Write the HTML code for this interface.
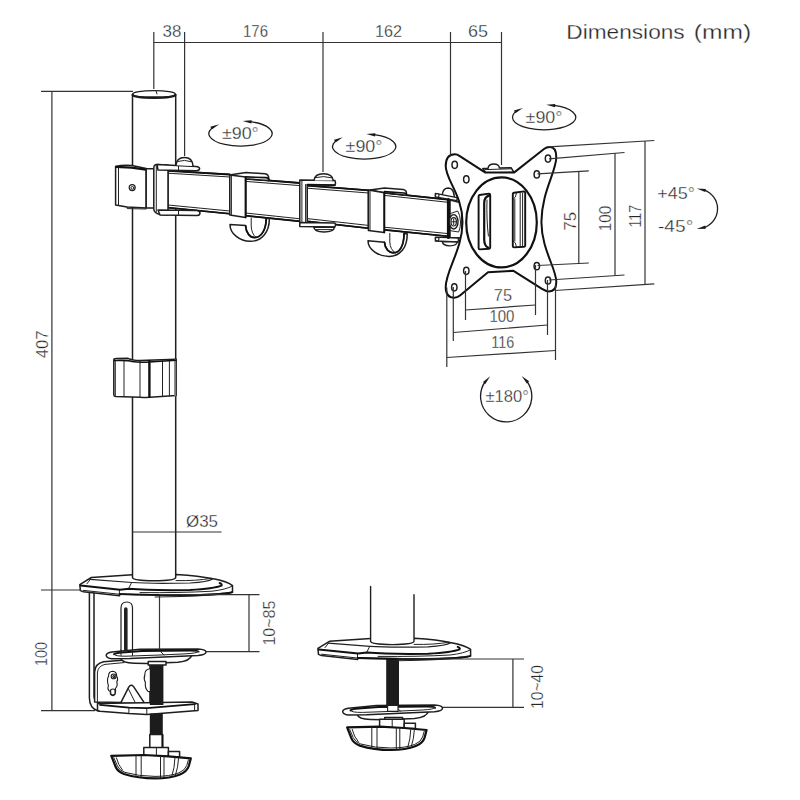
<!DOCTYPE html>
<html><head><meta charset="utf-8"><title>Dimensions (mm)</title>
<style>
html,body{margin:0;padding:0;background:#fff;width:800px;height:800px;overflow:hidden}
svg{display:block}
text{font-family:"Liberation Sans",sans-serif;fill:#262626;stroke:#fff;stroke-width:0.3px;paint-order:fill stroke}
#txt{font-size:16px}
.dim line,.dim path,.dim polyline{stroke:#333;stroke-width:1.2;fill:none}
.d{stroke:#1e1e1e;stroke-width:1.5;fill:#fff;stroke-linejoin:round;stroke-linecap:round}
.t{stroke:#222;stroke-width:1;fill:none;stroke-linecap:round}
.k{stroke:#111;stroke-width:2;fill:none;stroke-linecap:round;stroke-linejoin:round}
.n{fill:none}
</style></head><body>
<svg width="800" height="800" viewBox="0 0 800 800">
<rect width="800" height="800" fill="#fff"/>

<!-- ===== TEXT ===== -->
<g id="txt">
<text y="38.8" style="font-size:20.6px"><tspan x="566.3" textLength="118.4" lengthAdjust="spacingAndGlyphs">Dimensions</tspan> <tspan x="693.8" textLength="57.4" lengthAdjust="spacingAndGlyphs">(mm)</tspan></text>
<text x="162.5" y="37" textLength="18.8" lengthAdjust="spacingAndGlyphs">38</text>
<text x="243" y="37" textLength="25" lengthAdjust="spacingAndGlyphs">176</text>
<text x="375" y="37" textLength="27" lengthAdjust="spacingAndGlyphs">162</text>
<text x="468" y="37" textLength="20" lengthAdjust="spacingAndGlyphs">65</text>
<text x="221.9" y="139.4" textLength="36.9" lengthAdjust="spacingAndGlyphs">±90°</text>
<text x="345.6" y="151.9" textLength="36.9" lengthAdjust="spacingAndGlyphs">±90°</text>
<text x="525.6" y="122.5" textLength="36.9" lengthAdjust="spacingAndGlyphs">±90°</text>
<text x="657.3" y="198.7" textLength="37.7" lengthAdjust="spacingAndGlyphs">+45°</text>
<text x="658" y="231.6" textLength="35.3" lengthAdjust="spacingAndGlyphs">-45°</text>
<text x="485.5" y="402" textLength="43.3" lengthAdjust="spacingAndGlyphs">±180°</text>
<text x="186" y="526.5" textLength="32" lengthAdjust="spacingAndGlyphs">Ø35</text>
<text x="493.8" y="301" textLength="18.2" lengthAdjust="spacingAndGlyphs">75</text>
<text x="489.4" y="322" textLength="25" lengthAdjust="spacingAndGlyphs">100</text>
<text x="491.3" y="347.6" textLength="23" lengthAdjust="spacingAndGlyphs">116</text>
<text transform="translate(47.7 358.3) rotate(-90)" textLength="27.8" lengthAdjust="spacingAndGlyphs">407</text>
<text transform="translate(47 666) rotate(-90)" textLength="24" lengthAdjust="spacingAndGlyphs">100</text>
<text transform="translate(275.4 645.6) rotate(-90)" textLength="45" lengthAdjust="spacingAndGlyphs">10~85</text>
<text transform="translate(543 709) rotate(-90)" textLength="44" lengthAdjust="spacingAndGlyphs">10~40</text>
<text transform="translate(575.7 230.6) rotate(-90)" textLength="18.7" lengthAdjust="spacingAndGlyphs">75</text>
<text transform="translate(611.3 231.2) rotate(-90)" textLength="25.6" lengthAdjust="spacingAndGlyphs">100</text>
<text transform="translate(641.3 227.5) rotate(-90)" textLength="22.5" lengthAdjust="spacingAndGlyphs">117</text>
</g>

<!-- ===== DRAWING ===== -->
<g id="draw">
<!--BASE1-->
<g id="base1">
<!-- C bracket back -->
<path class="d" d="M89.4 592 V698 Q89.6 708 97.5 710.8 L100 711.2 V703 L97.5 702 Q94 700 94 696 V592 Z"/>
<!-- keyhole slot -->
<path class="d" style="stroke-width:1.2" d="M121 652 V608 Q121 602 126.8 602 Q132.5 602 132.5 608 V652"/>
<path class="k" d="M125.8 609 V651" style="stroke-width:3.6;stroke:#222"/>
<!-- side plate -->
<path class="d" d="M94.6 702 V672 Q95 663.6 103.6 661.8 L150 658 V703 Z"/>
<path class="t" d="M97.4 702 V673 Q97.8 666 105 664.4 L124 662.6"/>
<!-- nut blobs -->
<g class="d" style="stroke-width:1.1">
<path d="M108.6 676 Q108.4 671.4 112.6 671.2 Q116.8 671.4 116.6 676 Q118.6 679 116.8 682 Q118 686 115.4 688.4 Q116.4 694.4 113.4 695.6 Q110 695.8 110.2 691.6 Q107 690 108.4 685.4 Q106.4 680 108.6 676 Z"/>
<circle cx="113.6" cy="676.4" r="2.4"/>
<circle cx="113.8" cy="676.6" r="1"/>
<path d="M110.6 690 Q113 688 115 690 V694 Q113 696 110.8 694 Z"/>
<path d="M150 668.8 Q144.6 669.4 144.8 675 Q143.4 679 145.4 682.6 Q144.6 688 148 691.4 L150 691.6"/>
</g>
<!-- gusset -->
<path class="d" d="M121 702.4 L128.6 687.4 Q130.8 683.6 133.4 686.4 L144 702.4"/>
<path class="t" d="M128.2 688.4 L135 702.2"/>
<!-- bottom plate -->
<path class="d" d="M97.5 703.6 L192 702 L198 704 V710.4 L146.8 714.4 L128.9 713.6 L100 711.2 L97.5 710.6 Z"/>
<path class="k" d="M100 704.8 L128.9 707.6 L146.8 708.2 L194.8 704.2" style="stroke-width:1.8"/>
<path class="t" d="M128.9 707.8 V713.4 M146.8 708.4 V714.2 M194.6 704.4 V710.6"/>
<!-- screw -->
<rect x="149.8" y="664" width="13.6" height="41" fill="#1c1c1c"/>
<rect x="149.8" y="713.6" width="13" height="21" fill="#1c1c1c"/>
<path class="d" d="M149.8 734.6 H162.6 V748 H149.8 Z"/>
<path class="k" d="M162.4 735 V747.6" style="stroke-width:1.8"/>
<!-- pressure plate -->
<g id="pplate">
<path class="d" d="M120.5 658 Q122 663 134 663.3 L147.5 663.6 L178 662.2 Q190 661.2 192 655 Z"/>
<path class="d" d="M148.2 661.4 H166 V665 H148.2 Z"/>
<path class="d" d="M106.2 655.2 Q106.4 652.8 112 652 L140 649.2 L198 648.9 Q206 649.3 206 652 Q206 654.6 198 655.6 L130 658.6 L112 658.8 Q106.2 658 106.2 655.2 Z"/>
<path class="k" d="M114 654.2 Q116 652.8 122 652.4 L142 650.9 L190 650.4 Q198.4 650.4 198.6 651.6" style="stroke-width:2"/>
<path class="t" d="M114 654.2 Q114.4 656.4 126 656.2 L160 655 L186 653.8 Q197 653.2 198.6 651.6 M160 651 L164 655"/>
</g>
<path class="t" d="M121 650 V655.4 M132.5 649.8 V655.6"/>
<!-- knob -->
<g id="knob">
<path class="d" d="M143.8 747.6 H168.4 V756.6 H143.8 Z"/>
<path class="t" d="M156.4 748 V756.4"/>
<path class="d" d="M168.4 751.6 H179.6 V757 H168.4 Z"/>
<path class="d" style="stroke-width:2.2;stroke:#111" d="M111.3 755.8 L144 755 L168.4 756.4 L190.8 758.4 L188.8 766 Q187 771.6 180 774.4 Q170 778.4 155 778.4 Q138 778.4 124 774 Q117.5 771.5 115.5 766.5 Z"/>
<path class="t" d="M113.8 757.6 L117.4 766 Q119.4 770.4 125 772.4 Q139 776.4 155 776.4 Q170 776.4 179 772.8 Q185.4 770 186.8 765.4 L188.4 759.8"/>
<path class="t" d="M116.4 757.8 Q118 765 122.4 770 M136 756 V776.6 M141.2 756 V777.4 M160.5 756.6 V777.6 M164 756.8 V777.4 M178.6 758 Q178 768 175.6 774.6 M175 757.6 Q174.6 768 172 775.6"/>
</g>
<!-- base plate -->
<g id="bplate">
<path class="d" d="M79.8 584.6 L91.3 577.5 L132.5 574.8 L176.2 574.4 Q200 576 212 578.6 Q228 581.6 232.5 585.6 V592 Q228 593.8 200 594.8 Q170 595.6 119.6 594 V595.8 L83.4 591.8 L80.4 590.6 Z"/>
<path class="t" style="stroke-width:1.2" d="M90 579.4 L131.9 582.5 Q150 583.8 190 583 Q208 582 212.5 579"/>
<path class="t" d="M86.9 583.8 L90.4 579.4 M131.6 582.6 L128.6 588.6 M176 580.6 Q196 581 211 578.4"/>
<path class="t" d="M155 597 Q200 596.6 226 593.8 M83.4 590.4 L119 594.2 M119.4 589.6 V595.6"/>
<path class="k" d="M80.6 585.6 L120 589.8 L128.8 588.8 Q150 590.6 190 590 Q214 588.6 221.5 585.6 Q222.5 584.2 219.6 583" style="stroke-width:2"/>
<path class="t" d="M232.4 586 Q226 589.6 212 591.2 Q180 593 140 592.6"/>
<path class="k" d="M119.6 594.2 Q170 595.8 200 595 Q228 594 232.3 592.2" style="stroke-width:1.8"/>
</g>
</g>
<!--POLE-->
<g id="pole">
<path class="d" d="M132.5 94.5 V577.4 Q132.7 580.8 154.1 580.8 Q175.5 580.8 175.7 577.4 V94.5 Z"/>
<ellipse class="d" cx="154" cy="94.2" rx="21.5" ry="3.6" style="stroke-width:1.2"/>
<path class="k" d="M132.8 95 Q134 97.6 154 97.6 Q174 97.6 175.2 95" style="stroke-width:2.6;stroke:#1a1a1a"/>
<path class="t" d="M156 91 L157 94"/>
<!-- cable clip on pole -->
<path class="d" d="M113.8 360.2 Q113.8 358.6 116 358.6 L128 358.3 Q132 360.3 140 360.6 L176.2 359.2 V395.6 L150 397.3 Q146 397.6 140 397.2 L115.5 396.6 Q113.8 396.5 113.8 394.8 Z"/>
<path class="t" d="M115.3 360.5 V396 M124 361 V396.6 M140 361.5 V397 M162.5 361 V396.4 M169.4 360.6 V396"/>
<path class="k" d="M149.4 361 V396.8" style="stroke-width:2.4"/>
<path class="k" d="M175.2 360 V395.5" style="stroke:#777;stroke-width:2"/>
<path class="k" d="M114.5 360.5 Q128 360 132 361.5 Q140 362.8 149 362 L176 360.2" style="stroke-width:1.6"/>
</g>
<!--ARM-->
<g id="arm">
<!-- arm segments -->
<path class="d" d="M168 170.6 L229.8 174.4 V213.8 L168 207.6 Z"/>
<path class="t" d="M168 173.2 L229.8 177 M168 205 L229.8 211"/>
<path class="k" d="M168 170.8 L229.8 174.5" style="stroke-width:1.8"/>
<path class="k" d="M168 207.8 L229.8 213.8" style="stroke-width:1.6"/>
<path class="d" d="M245.6 178.7 L300 183 V221.3 L245.6 215.6 Z"/>
<path class="t" d="M245.6 181.4 L300 185.6 M245.6 213 L300 218.8"/>
<path class="k" d="M245.6 178.8 L300 183" style="stroke-width:1.8"/>
<path class="k" d="M245.6 215.8 L300 221.4" style="stroke-width:1.6"/>
<path class="d" d="M307.2 185.6 L368.4 190.2 V228.2 L307.2 221.3 Z"/>
<path class="t" d="M307.2 188.2 L368.4 193 M307.2 218.6 L368.4 225.4"/>
<path class="k" d="M307.2 185.7 L368.4 190.3" style="stroke-width:1.8"/>
<path class="k" d="M307.2 221.4 L368.4 228.3" style="stroke-width:1.6"/>
<path class="d" d="M384.3 192.7 L450 199.8 V236.4 L384.3 229.8 Z"/>
<path class="t" d="M384.3 195.4 L448 202.3 M384.3 227.2 L448 233.6"/>
<path class="k" d="M384.3 192.8 L450 199.9" style="stroke-width:1.8"/>
<path class="k" d="M384.3 229.9 L450 236.5" style="stroke-width:1.6"/>
<!-- clip 1 -->
<path class="d" d="M231 174.8 L246 172.5 L265 173.7 Q268.8 174.2 268.8 178.8 L268.8 180.6 L245.6 178.7 Z"/>
<path class="k" d="M245.8 176.9 L266 177.6 Q268.6 177.8 268.8 180" style="stroke-width:1.6"/>
<path class="d" d="M229.8 175 L245.6 176.9 V217.5 L229.8 215 Z"/>
<path class="t" d="M231.4 176 V214.6"/>
<path class="k" d="M245.6 177 V217.4" style="stroke-width:1.8"/>
<!-- hook 1 -->
<path class="d" d="M230 224.4 L245.6 225.6 C246 233 250 237.6 254.5 237.6 C261 237.6 266.2 230 266.2 218.2 L269.4 218.4 C269.4 232 262 241.3 250 241.3 C240 241.3 230 234 230 224.4 Z"/>
<path class="t" d="M251.2 218 V226 Q251.6 234 256 237.4"/>
<path class="k" d="M245.6 225.8 C246 233 250 237.6 254.5 237.6 C261 237.6 266.2 230 266.2 218.4" style="stroke-width:1.7"/>
<!-- middle joint -->
<path class="d" d="M299.8 180 L335 180.6 Q336 182.8 335 185 L307.2 184.6 V226.3 L299.8 226 Z"/>
<path class="t" d="M301.9 181 V225.6 M305.6 184.6 V226"/>
<path class="d" d="M314 180.4 Q314.6 173.7 323.6 173.7 Q332.6 173.7 333.2 180.6"/>
<path class="t" d="M315.4 177.6 Q323.6 175.4 331.8 177.8"/>
<path class="k" d="M307.4 184.8 L335 185.2" style="stroke-width:1.6"/>
<path class="d" d="M299.8 222.6 L335 223 Q336 225 335 227 L299.8 226.6 Z"/>
<path class="d" d="M313.8 227 Q314 231.8 324 232 Q334 231.8 334.4 227.2 Z"/>
<path class="t" d="M316 229.6 H332"/>
<!-- clip 2 -->
<path class="d" d="M370 190 L384.5 187.9 L403 189.6 Q406.5 190 406.5 193.4 L406.5 195.2 L384.3 192.7 Z"/>
<path class="k" d="M384.4 191.6 L404 193 Q406.4 193.2 406.5 195" style="stroke-width:1.6"/>
<path class="d" d="M368.4 190 L384.3 192.7 V232.5 L368.4 230.5 Z"/>
<path class="t" d="M370 191.2 V230.2"/>
<path class="k" d="M384.3 192.8 V232.4" style="stroke-width:1.8"/>
<!-- hook 2 -->
<path class="d" d="M368 240.8 L384.5 242.2 C385 249 389 252.8 393.4 252.8 C399.6 252.8 404 246 404 233.6 L407.2 233.8 C407.4 247 400.6 256.4 389 256.4 C379 256.4 368 250 368 240.8 Z"/>
<path class="t" d="M389.8 233.4 V242 Q390.2 249.6 395 252.6"/>
<path class="k" d="M384.5 242.4 C385 249 389 252.8 393.4 252.8 C399.6 252.8 404 246 404 233.8" style="stroke-width:1.7"/>
<!-- tilt head -->
<path class="d" d="M442.3 194.6 Q443 188 448.4 188 Q453.8 188.2 454.4 197"/>
<path class="d" d="M435.3 193.4 L457 197.6 V200.6 L435.3 196.8 Z" style="stroke-width:1.3"/>
<circle class="d" cx="437.2" cy="195.4" r="1.8" style="stroke-width:1.2"/>
<path class="d" d="M450 200 L462 203 V238 L450 237.4 Z"/>
<path class="t" d="M449.8 213.8 L457.6 211 Q460 214 460.6 222 Q460.4 229 458.6 232 L449.8 230.6"/>
<path class="d" d="M435.3 237.2 L458.3 238 V242 L435.3 241 Z" style="stroke-width:1.3"/>
<circle class="d" cx="437.2" cy="239.1" r="1.8" style="stroke-width:1.2"/>
<path class="d" d="M442.3 241.6 Q442.6 245.6 449.8 245.8 Q457 245.6 457.3 242 Z" style="stroke-width:1.3"/>
<path class="k" d="M448.4 199.4 V237.6" style="stroke-width:3"/>
<ellipse class="d" cx="453.7" cy="221.8" rx="4.3" ry="7.2" style="stroke-width:1.4"/>
<ellipse class="t" cx="453.7" cy="221.8" rx="2.7" ry="4.2" style="stroke-width:1.2"/>
<path class="t" d="M451.8 221.8 H455.6 M453.7 219 V224.6"/>
<!-- collar on pole -->
<path class="d" d="M115.6 166.5 Q122 164.6 132 165.4 L146.2 168.6 V208 L127 207 L115.6 205 Z"/>
<path class="t" d="M127.2 207.2 V208.6 L146 209"/>
<path class="k" d="M116 166.8 Q132 167 146 169.6" style="stroke-width:2.2"/>
<path class="t" d="M118.5 168 V205.4"/>
<circle class="d" cx="132.2" cy="187.6" r="3" style="stroke-width:1.2"/>
<circle class="t" cx="132.4" cy="187.8" r="1.4"/>
<!-- neck -->
<path class="d" d="M146.2 168.8 H154 V208 H146.2 Z"/>
<!-- hinge block -->
<path class="d" d="M153.8 168 Q153.8 164.6 157 164.5 L168 165 V215 L160 214.6 Q153.8 213 153.8 209 Z"/>
<path class="t" d="M156.3 166 V212"/>
<!-- top plate + bolt -->
<path class="d" d="M157 164.5 L196 166.4 Q199.6 166.8 199.6 168.6 Q199.6 170.8 196 170.8 L158 170 Z"/>
<path class="t" d="M178.5 165.4 V170.4"/>
<path class="d" d="M176 165.2 Q176.5 157.4 184.5 157.4 Q192.5 157.4 193 166"/>
<path class="t" d="M178 161.4 Q184.5 159.2 191 161.6"/>
<!-- bottom plate -->
<path class="d" d="M158 210 L197 210.4 Q200 211 200 213 Q200 215.4 197 215.6 L160 215 Z"/>
<path class="t" d="M178.5 210.4 V215.4"/>
</g>
<!--VESA-->
<g id="vesa">
<!-- top bracket behind plate -->
<path class="d" d="M482.8 168.6 L488 168.4 Q488.6 164 493.8 164 Q499 164 499.4 168 L511.2 167.8 L514 172.5 L486 173 Z"/>
<path class="t" d="M485 169.6 L511 168.8"/>
<!-- plate -->
<path class="d" style="stroke-width:2;stroke:#111" d="M445.7 166 C445.7 158 449 154.2 455 154.2 C457 154.2 458 154.8 459 155.6 L485 172.4 L514.3 172.4 L544 149 C546 147.4 547.6 147 549.6 147 C554 147 556.3 151 556.3 157 C556.3 172 541.6 192 541.4 222 C541.6 250 556.3 268 556.3 282 C556.3 288 553.6 291.4 549 291.4 C546.6 291.4 544.6 290.4 542 288.8 L513.5 270.8 L488 272.3 L460 295.6 C458 297.2 456.4 297.8 454.4 297.8 C449 297.8 445.7 294 445.7 287 C445.7 270 462.5 250 462.5 222 C462.5 195 445.7 180 445.7 166 Z"/>
<ellipse class="d" cx="501.5" cy="222.4" rx="35.3" ry="45" style="stroke-width:2.2;stroke:#111"/>
<!-- holes -->
<g class="d" style="stroke-width:1.5">
<ellipse cx="454.7" cy="164.8" rx="2.7" ry="3.6"/>
<ellipse cx="466.3" cy="179.3" rx="2.7" ry="3.6"/>
<ellipse cx="548" cy="158.6" rx="2.7" ry="3.6"/>
<ellipse cx="536.8" cy="174.4" rx="2.7" ry="3.6"/>
<ellipse cx="454.3" cy="287.3" rx="2.7" ry="3.6"/>
<ellipse cx="466.3" cy="270.8" rx="2.7" ry="3.6"/>
<ellipse cx="548" cy="280.5" rx="2.7" ry="3.6"/>
<ellipse cx="536.8" cy="266.2" rx="2.7" ry="3.6"/>
</g>
<!-- slots -->
<path class="d" style="stroke-width:1.9;stroke:#111" d="M479.6 195 L489 193.6 Q490.2 193.6 490.2 195 V247.6 Q490.2 248.6 489 248.8 L479.8 249.4 Q478.6 249.4 478.6 248 V196.2 Q478.6 195.2 479.6 195 Z"/>
<path class="k" d="M489.4 195.4 Q484.2 197 484.2 203 V240 Q484.4 246 488 247.6" style="stroke-width:2.2"/>
<path class="t" d="M487 200 Q486.4 220 488.4 236"/>
<path class="d" style="stroke-width:1.9;stroke:#111" d="M514 192.8 L524 191.4 Q525.2 191.4 525.2 192.8 V245.4 Q525.2 246.6 524 246.8 L514 247.4 Q512.8 247.4 512.8 246 V194 Q512.8 193 514 192.8 Z"/>
<path class="t" d="M514.8 199 V241 M520.2 193 V246.4 M522.6 193 V246"/>
<path class="t" d="M513.4 199 Q516 198 516.4 193.4 M513.4 241 Q516 242 516.4 246.6"/>
</g>
<!--BASE2-->
<g id="base2">
<rect x="386.2" y="659" width="12.8" height="46.6" fill="#1c1c1c"/>
<use href="#pplate" transform="translate(236.5 56.2)"/>
<path class="d" d="M387.6 705.4 H398 V711.4 H387.6 Z" style="stroke-width:1.1"/>
<use href="#knob" transform="translate(235.8 -28.4)"/>
<use href="#bplate" transform="translate(238.1 63.8)"/>
<path class="d" d="M370.6 586.4 V641.4 Q370.8 644.4 392.3 644.6 Q413.8 644.4 414 641.4 V594.8" style="stroke-width:1.4"/>
</g>
<!--ARROWS-->
<g id="arrows">
<path d="M250.2 121.7 A31.7 12.5 0 1 1 214.8 126.3" fill="none" stroke="#1e1e1e" stroke-width="1.3"/>
<path d="M242.6 121.1 L251.7 120.3 L251.4 123.5 Z" fill="#1a1a1a" stroke="none"/>
<path d="M219.2 124.3 L211.7 129.6 L210.4 126.7 Z" fill="#1a1a1a" stroke="none"/>
<path d="M373.9 134.7 A31.7 12.5 0 1 1 338.5 139.3" fill="none" stroke="#1e1e1e" stroke-width="1.3"/>
<path d="M366.3 134.1 L375.4 133.3 L375.1 136.5 Z" fill="#1a1a1a" stroke="none"/>
<path d="M342.9 137.3 L335.4 142.6 L334.1 139.7 Z" fill="#1a1a1a" stroke="none"/>
<path d="M553.8 105.4 A31.7 12.5 0 1 1 518.4 110.0" fill="none" stroke="#1e1e1e" stroke-width="1.3"/>
<path d="M546.2 104.8 L555.3 104.0 L555.0 107.2 Z" fill="#1a1a1a" stroke="none"/>
<path d="M522.8 108.0 L515.3 113.3 L514.0 110.4 Z" fill="#1a1a1a" stroke="none"/>
<path d="M526.7 381.0 A25.6 25.6 0 1 1 485.3 381.5" fill="none" stroke="#1e1e1e" stroke-width="1.3"/>
<path d="M521.7 375.9 L529.1 381.3 L526.8 383.5 Z" fill="#1a1a1a" stroke="none"/>
<path d="M490.2 376.3 L485.3 384.1 L483.0 381.9 Z" fill="#1a1a1a" stroke="none"/>
<path d="M703.8 189.8 A20.8 20.2 0 0 1 703.8 227.8" fill="none" stroke="#1e1e1e" stroke-width="1.3"/>
<path d="M696.7 188.6 L705.8 188.9 L705.2 192.0 Z" fill="#1a1a1a" stroke="none"/>
<path d="M696.7 229.0 L705.2 225.6 L705.8 228.7 Z" fill="#1a1a1a" stroke="none"/>
</g>
</g>
<!-- ===== DIMENSION LINES ===== -->
<g class="dim" id="dims">
<!-- top chain -->
<line x1="153.8" y1="42.5" x2="501.5" y2="42.5"/>
<line x1="153.8" y1="32" x2="153.8" y2="89"/>
<line x1="184.6" y1="32" x2="184.6" y2="156"/>
<line x1="323" y1="32" x2="323" y2="172"/>
<line x1="450.5" y1="32" x2="450.5" y2="156"/>
<line x1="501.5" y1="32" x2="501.5" y2="165"/>
<!-- 407 / 100 left -->
<line x1="41" y1="91.4" x2="133" y2="91.4"/>
<line x1="51.9" y1="91.4" x2="51.9" y2="710.6"/>
<line x1="41" y1="590" x2="81" y2="590"/>
<line x1="41" y1="710.6" x2="95" y2="710.6"/>
<!-- dia 35 -->
<line x1="132.5" y1="532" x2="221.5" y2="532"/>
<!-- 10~85 -->
<line x1="159.3" y1="594.6" x2="259.5" y2="594.6"/>
<line x1="205.5" y1="651.6" x2="259.5" y2="651.6"/>
<line x1="249" y1="594.6" x2="249" y2="651.6"/>
<line x1="159.5" y1="596" x2="159.5" y2="649.5"/>
<!-- 10~40 -->
<line x1="397.5" y1="659" x2="524" y2="659"/>
<line x1="443" y1="707.4" x2="524" y2="707.4"/>
<line x1="512.9" y1="659" x2="512.9" y2="707.4"/>
<!-- vesa right -->
<line x1="548.8" y1="146.8" x2="654.3" y2="140.5"/>
<line x1="549" y1="158.8" x2="624.5" y2="152.5"/>
<line x1="537.5" y1="173.8" x2="588.8" y2="170.8"/>
<line x1="537.5" y1="265.5" x2="588.8" y2="263"/>
<line x1="549" y1="280" x2="624.5" y2="275"/>
<line x1="555" y1="290.5" x2="654.3" y2="283.8"/>
<line x1="578.8" y1="171.4" x2="578.8" y2="263.5"/>
<line x1="615" y1="153.3" x2="615" y2="275.6"/>
<line x1="645" y1="141" x2="645" y2="284.4"/>
<!-- vesa bottom -->
<line x1="465.5" y1="271" x2="465.5" y2="320"/>
<line x1="535.5" y1="265" x2="535.5" y2="315"/>
<line x1="465.5" y1="310" x2="535.5" y2="305"/>
<line x1="453.3" y1="287" x2="453.3" y2="341"/>
<line x1="547.5" y1="280" x2="547.5" y2="335"/>
<line x1="453.3" y1="332.5" x2="547.5" y2="325"/>
<line x1="446.8" y1="287.5" x2="446.8" y2="367"/>
<line x1="555.5" y1="285" x2="555.5" y2="360"/>
<line x1="446.8" y1="357.5" x2="555.5" y2="350.5"/>
</g>

</svg></body></html>
